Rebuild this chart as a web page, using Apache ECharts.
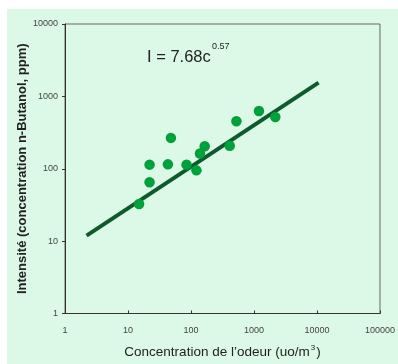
<!DOCTYPE html>
<html>
<head>
<meta charset="utf-8">
<script src="https://cdn.jsdelivr.net/npm/echarts@6/dist/echarts.min.js"></script>
<style>
  html, body { margin: 0; padding: 0; background: #fff; }
  #chart { width: 398px; height: 364px; }
</style>
</head>
<body>
<div id="chart"></div>
<script>
// odour concentration (uo/m3) vs intensity (ppm n-butanol)
const odourConc = [15, 22, 22, 48, 43, 85, 122, 139, 165, 412, 526, 1200, 2180];
const intensity = [32.6, 65, 114, 267, 115, 114, 95, 162, 205, 208, 454, 627, 520];

// fitted line I = 7.68 c^0.57, drawn between its two end points
const fitConc = [2.2, 10600];
const fitIntensity = [11.9, 1545];

const xTicks = [1, 10, 100, 1000, 10000, 100000];
const yTicks = [1, 10, 100, 1000, 10000];

const chart = echarts.init(document.getElementById("chart"));

const font = "Liberation Sans, Arial, sans-serif";
const labelStyle = { color: "#444", fontSize: 9, fontFamily: font };

chart.setOption({
  animation: false,
  graphic: [
    {
      type: "rect",
      z: -10,
      shape: { x: 7, y: 9, width: 391, height: 355 },
      style: { fill: "#dcf8e7" },
    },
    {
      type: "text",
      left: 147,
      top: 49,
      style: { text: "I = 7.68c", fontSize: 16.5, fontFamily: font, fill: "#222" },
    },
    {
      type: "text",
      left: 212,
      top: 42,
      style: { text: "0.57", fontSize: 9, fontFamily: font, fill: "#222" },
    },
  ],
  grid: { left: 65, right: 18, top: 24, bottom: 44, show: true, borderColor: "#666", borderWidth: 1 },
  xAxis: {
    type: "log",
    logBase: 10,
    min: xTicks[0],
    max: xTicks[xTicks.length - 1],
    name: "{t|Concentration de l’odeur (uo/m}{s|3}{t|)}",
    nameLocation: "middle",
    nameGap: 30,
    nameTextStyle: {
      rich: {
        t: { fontSize: 13.5, color: "#222", fontFamily: font },
        s: { fontSize: 8, color: "#222", fontFamily: font, verticalAlign: "top", padding: [0, 1, 9, 1] },
      },
    },
    axisLine: { lineStyle: { color: "#333", width: 1 } },
    axisTick: { inside: true, length: 3, lineStyle: { color: "#333" } },
    axisLabel: { ...labelStyle, margin: 13, formatter: (v) => String(Math.round(v)) },
    splitLine: { show: false },
  },
  yAxis: {
    type: "log",
    logBase: 10,
    min: yTicks[0],
    max: yTicks[yTicks.length - 1],
    name: "Intensité (concentration n-Butanol, ppm)",
    nameLocation: "middle",
    nameGap: 36,
    nameMoveOverlap: false,
    nameTextStyle: { fontSize: 13, fontWeight: "bold", color: "#222", fontFamily: font },
    axisLine: { lineStyle: { color: "#333", width: 1 } },
    axisTick: { length: 3, lineStyle: { color: "#333" } },
    axisLabel: { ...labelStyle, margin: 7, formatter: (v) => String(Math.round(v)) },
    splitLine: { show: false },
  },
  series: [
    {
      type: "line",
      data: fitConc.map((c, i) => [c, fitIntensity[i]]),
      symbol: "none",
      lineStyle: { color: "#0d5a2c", width: 4 },
      z: 2,
    },
    {
      type: "scatter",
      data: odourConc.map((c, i) => [c, intensity[i]]),
      symbolSize: 10.5,
      itemStyle: { color: "#00a03a", opacity: 1 },
      z: 3,
    },
  ],
});
</script>
</body>
</html>
